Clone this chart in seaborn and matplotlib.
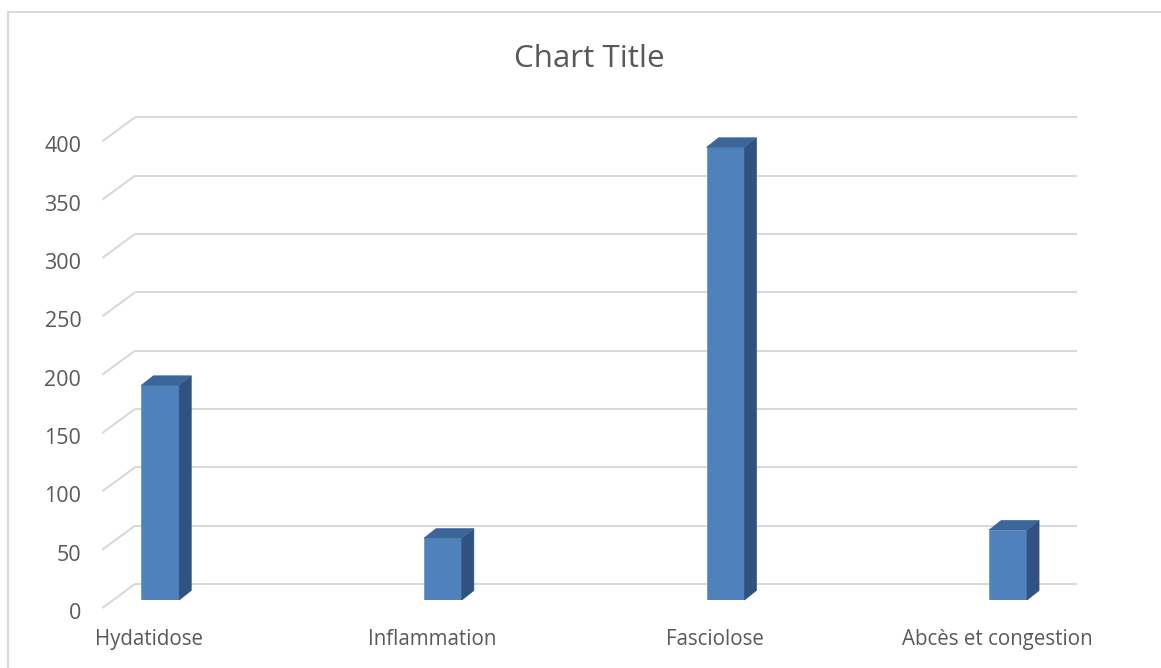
import matplotlib
matplotlib.use("Agg")
import matplotlib.pyplot as plt
import seaborn as sns
from matplotlib.patches import Polygon
from matplotlib.lines import Line2D
from matplotlib.transforms import ScaledTranslation

# Data
categories = ["Hydatidose", "Inflammation", "Fasciolose", "Abcès et congestion"]
values = [184, 53, 388, 60]
y_ticks = [0, 50, 100, 150, 200, 250, 300, 350, 400]
title = "Chart Title"

# Canvas
W, H, DPI = 1161, 668, 100
FRONT = "#4F81BD"
TOP = "#3C669A"
SIDE = "#2F5280"
GRID = "#D9D9D9"
TEXT = "#595959"

sns.set_theme(style="white")
plt.rcParams["font.family"] = ["Open Sans", "DejaVu Sans"]

fig = plt.figure(figsize=(W / DPI, H / DPI), dpi=DPI)
fig.patch.set_facecolor("white")


def px_box(left, top, right, bottom):
    return [left / W, 1 - bottom / H, (right - left) / W, (bottom - top) / H]


# plotting plane (the plane holding the front faces of the columns)
L, T, R, B = 113.2, 133.3, 1055.2, 600.0
ax = fig.add_axes(px_box(L, T, R, B))
ax.set_facecolor("none")

sns.barplot(x=categories, y=values, color=FRONT, saturation=1, width=0.134,
            edgecolor="#6E97CB", linewidth=0.6, ax=ax, zorder=3)

XL = (-1 / 6, 3 + 1 / 6)
ax.set_xlim(*XL)
ax.set_ylim(0, 400)
for s in ax.spines.values():
    s.set_visible(False)
ax.grid(False)

# pixel -> data conversion on this plane
sx = (R - L) / (XL[1] - XL[0])
sy = (B - T) / 400.0


def shift(dx_px, dy_px):
    # dy_px positive means "up" on screen
    return dx_px / sx, dy_px / sy


# depth offsets of the wall (back) and the floor edge (front)
bdx, bdy = shift(21.8, 16.0)
fdx, fdy = shift(-10.9, -8.0)

for v in y_ticks:
    ax.add_line(Line2D([XL[0] + bdx, XL[1] + bdx], [v + bdy, v + bdy],
                       color=GRID, lw=1.5, zorder=0, clip_on=False,
                       solid_capstyle="butt"))
    ax.add_line(Line2D([XL[0] + fdx, XL[0] + bdx], [v + fdy, v + bdy],
                       color=GRID, lw=1.5, zorder=0, clip_on=False,
                       solid_capstyle="butt"))

# column depth (top and side faces)
cdx, cdy = shift(12.0, 9.5)
for p in list(ax.patches):
    x0, w, h = p.get_x(), p.get_width(), p.get_height()
    x1 = x0 + w
    top = Polygon([(x0, h), (x1, h), (x1 + cdx, h + cdy), (x0 + cdx, h + cdy)],
                  closed=True, facecolor=TOP, edgecolor=TOP, lw=0.5,
                  zorder=3, clip_on=False)
    side = Polygon([(x1, 0), (x1, h), (x1 + cdx, h + cdy), (x1 + cdx, cdy)],
                   closed=True, facecolor=SIDE, edgecolor=SIDE, lw=0.5,
                   zorder=3, clip_on=False)
    ax.add_patch(side)
    ax.add_patch(top)

# axis labels
ax.set_xlabel("")
ax.set_ylabel("")
ax.set_yticks(y_ticks)
ax.set_xticks(range(len(categories)))
ax.set_xticklabels(categories)
ax.tick_params(axis="y", length=0, pad=23, labelsize=15.5, labelcolor=TEXT)
ax.tick_params(axis="x", length=0, pad=21, labelsize=14.8, labelcolor=TEXT)

down = ScaledTranslation(0, -11 / DPI, fig.dpi_scale_trans)
for t in ax.yaxis.get_major_ticks():
    t.label1.set_transform(t.label1.get_transform() + down)
left = ScaledTranslation(-11 / DPI, 0, fig.dpi_scale_trans)
for t in ax.xaxis.get_major_ticks():
    t.label1.set_transform(t.label1.get_transform() + left)

# title
fig.text(589 / W, 1 - 67 / H, title, ha="center", va="baseline",
         fontsize=22.6, color=TEXT)

# chart frame
fig.add_artist(Line2D([8 / W, 8 / W], [0, 1 - 12 / H], color=GRID, lw=1.5,
                      transform=fig.transFigure))
fig.add_artist(Line2D([8 / W, 1], [1 - 12 / H, 1 - 12 / H], color=GRID, lw=1.5,
                      transform=fig.transFigure))

fig.savefig("out.png", dpi=DPI)
